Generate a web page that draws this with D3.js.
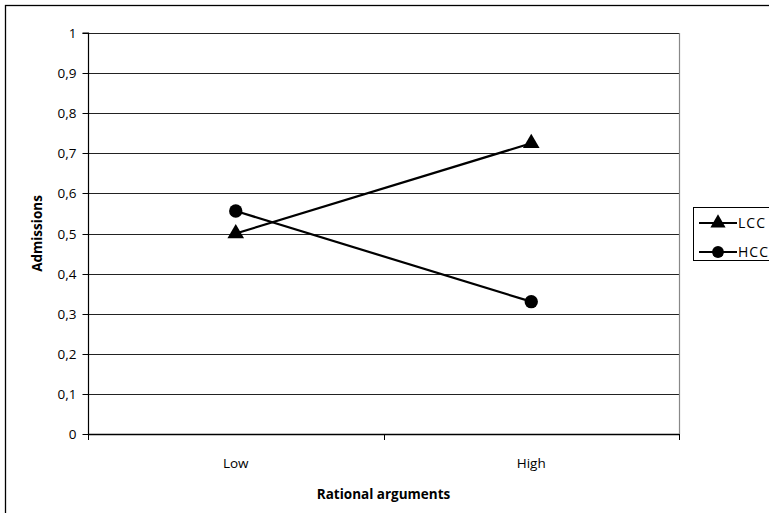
<!DOCTYPE html>
<html>
<head>
<meta charset="utf-8">
<script src="https://cdn.jsdelivr.net/npm/d3@7"></script>
<style>
  html, body { margin: 0; padding: 0; background: #fff; }
  svg { display: block; }
  text { font-family: "Open Sans", "Noto Sans", sans-serif; fill: #000; }
</style>
</head>
<body>
<svg id="chart" width="769" height="513"></svg>
<script>
// Admissions by level of rational arguments, for two groups
const categories = ["Low", "High"];
const lccValues = [0.5, 0.725];
const hccValues = [0.556, 0.33];
const seriesNames = ["LCC", "HCC"];
const yTicks = [0, 0.1, 0.2, 0.3, 0.4, 0.5, 0.6, 0.7, 0.8, 0.9, 1];

const series = [
  { name: seriesNames[0], values: lccValues, symbol: d3.symbolTriangle },
  { name: seriesNames[1], values: hccValues, symbol: d3.symbolCircle }
];

const svg = d3.select("#chart");
const plot = { left: 88, right: 679, top: 33, bottom: 434 };

// outer chart frame (extends past the canvas on right and bottom)
svg.append("rect")
  .attr("x", 5.5).attr("y", 5.5)
  .attr("width", 800).attr("height", 540)
  .attr("fill", "none").attr("stroke", "#000").attr("stroke-width", 1.3);

const x = d3.scaleBand().domain(categories).range([plot.left, plot.right]);
const y = d3.scaleLinear().domain([0, 1]).range([plot.bottom, plot.top]);

// horizontal gridlines
svg.append("g").selectAll("line").data(yTicks.filter(t => t > 0)).join("line")
  .attr("x1", plot.left).attr("x2", plot.right)
  .attr("y1", d => Math.round(y(d)) + 0.5).attr("y2", d => Math.round(y(d)) + 0.5)
  .attr("stroke", "#222").attr("stroke-width", 1);

// right edge of plot area
svg.append("line")
  .attr("x1", plot.right + 0.5).attr("x2", plot.right + 0.5)
  .attr("y1", plot.top).attr("y2", plot.bottom)
  .attr("stroke", "#888").attr("stroke-width", 1.2);

// y axis
const yAxis = d3.axisLeft(y).tickValues(yTicks).tickSize(6).tickPadding(6)
  .tickFormat(d => d3.format("~g")(d).replace(".", ","));
const gy = svg.append("g").attr("transform", `translate(${plot.left + 0.5},0)`).call(yAxis);
gy.select(".domain").attr("stroke", "#000").attr("stroke-width", 1.2).attr("d", `M-6,${plot.top}H0V${plot.bottom}`);
gy.selectAll(".tick line").attr("stroke", "#000");
gy.selectAll(".tick").attr("transform", d => `translate(0,${Math.round(y(d)) + 0.5})`);
gy.selectAll("text").style("font-size", "13.5px").style("font-family", "'Open Sans', sans-serif");

// x axis baseline and category boundary ticks
const bounds = [plot.left, (plot.left + plot.right) / 2, plot.right];
svg.append("line")
  .attr("x1", plot.left).attr("x2", plot.right)
  .attr("y1", plot.bottom + 0.5).attr("y2", plot.bottom + 0.5)
  .attr("stroke", "#000").attr("stroke-width", 1.5);
svg.append("g").selectAll("line").data(bounds).join("line")
  .attr("x1", d => Math.round(d) + 0.5).attr("x2", d => Math.round(d) + 0.5)
  .attr("y1", plot.bottom).attr("y2", plot.bottom + 6)
  .attr("stroke", "#000").attr("stroke-width", 1);

// category labels
svg.append("g").selectAll("text").data(categories).join("text")
  .attr("x", d => x(d) + x.bandwidth() / 2)
  .attr("y", 468)
  .attr("text-anchor", "middle")
  .style("font-size", "13.5px")
  .text(d => d);

// axis titles
svg.append("text")
  .attr("x", (plot.left + plot.right) / 2).attr("y", 499)
  .attr("text-anchor", "middle")
  .style("font-size", "13.5px").style("font-weight", "bold")
  .text("Rational arguments");
svg.append("text")
  .attr("transform", `translate(42,${(plot.top + plot.bottom) / 2}) rotate(-90)`)
  .attr("text-anchor", "middle")
  .style("font-size", "13.5px").style("font-weight", "bold")
  .text("Admissions");

// series lines and markers
const line = d3.line()
  .x((d, i) => x(categories[i]) + x.bandwidth() / 2)
  .y(d => y(d));

series.forEach(s => {
  svg.append("path")
    .attr("d", line(s.values))
    .attr("fill", "none").attr("stroke", "#000").attr("stroke-width", 2.2);
  svg.append("g").selectAll("path").data(s.values).join("path")
    .attr("transform", (d, i) => `translate(${x(categories[i]) + x.bandwidth() / 2},${y(d)})`)
    .attr("d", d3.symbol().type(s.symbol).size(s.symbol === d3.symbolCircle ? 140 : 120))
    .attr("fill", "#000");
});

// legend
const legend = svg.append("g");
legend.append("rect")
  .attr("x", 693.5).attr("y", 207.5).attr("width", 100).attr("height", 53)
  .attr("fill", "#fff").attr("stroke", "#000").attr("stroke-width", 1);
const legendY = d3.scalePoint().domain(seriesNames).range([223, 252]);
series.forEach(s => {
  const ly = legendY(s.name);
  legend.append("line")
    .attr("x1", 699).attr("x2", 737).attr("y1", ly).attr("y2", ly)
    .attr("stroke", "#000").attr("stroke-width", 2.2);
  legend.append("path")
    .attr("transform", `translate(718,${ly})`)
    .attr("d", d3.symbol().type(s.symbol).size(s.symbol === d3.symbolCircle ? 110 : 100))
    .attr("fill", "#000");
  legend.append("text")
    .attr("x", 738).attr("y", ly).attr("dy", "0.35em")
    .style("font-size", "14px").style("letter-spacing", "1px")
    .text(s.name);
});
</script>
</body>
</html>
